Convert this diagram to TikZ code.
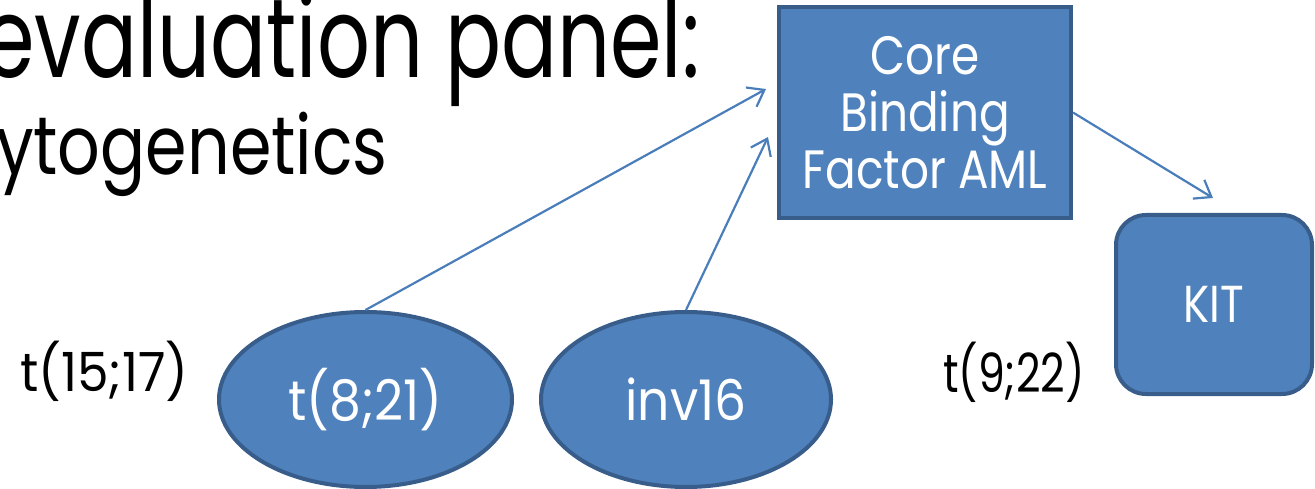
\documentclass[tikz,border=0pt]{standalone}
\usepackage{fontspec}
\setmainfont[FakeStretch=0.8]{Poppins}
\newfontfamily\titlef[FakeStretch=0.74]{Poppins}
\newfontfamily\subf[FakeStretch=0.815]{Poppins}
\newfontfamily\labf[FakeStretch=0.9]{Poppins}
\newfontfamily\labwidef[FakeStretch=0.93]{Poppins}
\newfontfamily\labnarrowf[FakeStretch=0.79]{Poppins}
\newfontfamily\boxf[FakeStretch=0.84]{Poppins}
\usetikzlibrary{arrows.meta,shapes.geometric}
\definecolor{boxfill}{HTML}{4F81BD}
\definecolor{boxline}{HTML}{385D8A}
\definecolor{arrowc}{HTML}{4A7EBB}
\tikzset{
  shapebox/.style={draw=boxline, fill=boxfill, line width=4pt, text=white, inner sep=0pt, align=center},
  bluearrow/.style={draw=arrowc, line width=2.2pt, -{Straight Barb[length=15pt,width=22pt,line width=2.2pt]}},
  plainlabel/.style={inner sep=0pt, text=black}
}
\begin{document}
\begin{tikzpicture}[x=1pt,y=-1pt]
\useasboundingbox (0,0) rectangle (1315,489);
% titles
\node[plainlabel, anchor=base east, font=\titlef\fontsize{112}{130}\selectfont] (title) at (700,78) {evaluation panel:};
\node[plainlabel, anchor=base east, font=\subf\fontsize{82}{96}\selectfont] (sub) at (388,175) {cytogenetics};
% shapes
\node[shapebox, rectangle, minimum width=292pt, minimum height=211pt, font=\boxf\fontsize{54}{57}\selectfont] (core) at (925,112.5) {Core\\Binding\\Factor AML};
\node[shapebox, rectangle, rounded corners=30pt, minimum width=196pt, minimum height=179pt, font=\boxf\fontsize{52}{60}\selectfont] (kit) at (1214,304.5) {KIT};
\node[shapebox, ellipse, minimum width=293pt, minimum height=175pt, font=\labf\fontsize{56}{60}\selectfont] (t821) at (365.5,399.5) {t(8;21)};
\node[shapebox, ellipse, minimum width=290pt, minimum height=175pt, font=\labf\fontsize{56}{60}\selectfont] (inv) at (686,399.5) {inv16};
% labels
\node[plainlabel, anchor=base west, font=\labwidef\fontsize{54}{60}\selectfont] (t1517) at (20,391) {t(15;17)};
\node[plainlabel, anchor=base west, font=\labnarrowf\fontsize{54}{60}\selectfont] (t922) at (943,392) {t(9;22)};
% arrows
\coordinate (a1e) at (766,89);
\coordinate (a2e) at (768,137);
\coordinate (a3e) at (1213,198);
\draw[bluearrow] (t821.north) -- (a1e);
\draw[bluearrow] (inv.north) -- (a2e);
\draw[bluearrow] (core.east) -- (a3e);
\end{tikzpicture}
\end{document}
